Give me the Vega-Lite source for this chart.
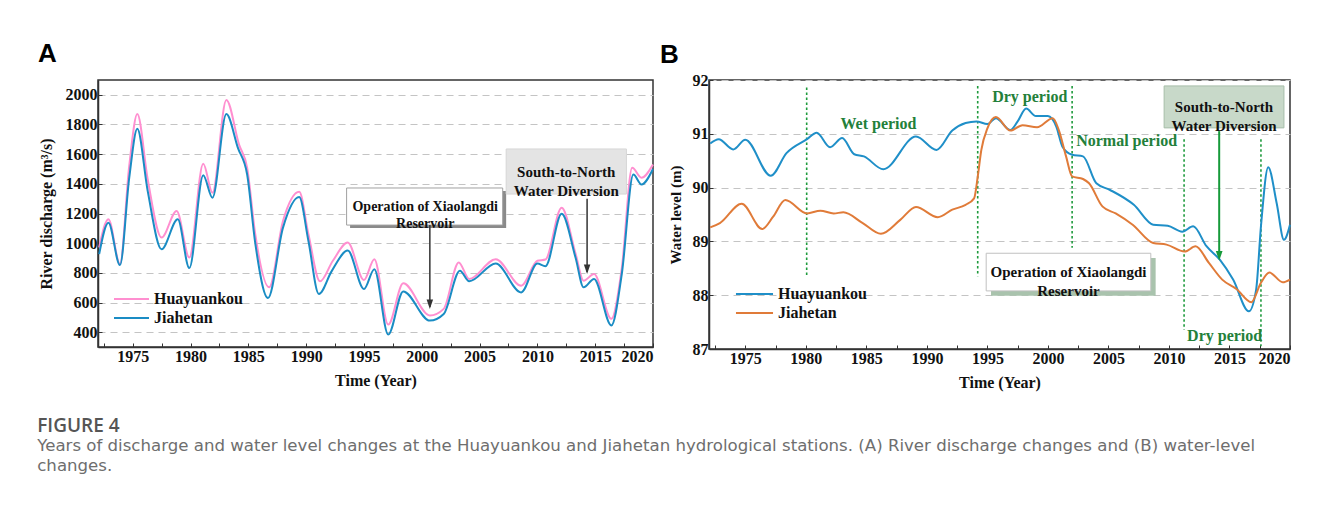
{
"$schema": "https://vega.github.io/schema/vega-lite/v6.json",
"background": "white",
"padding": {"left": 37, "top": 40, "right": 10, "bottom": 30},
"spacing": 1,
"title": {"text": "FIGURE 4", "subtitle": ["Years of discharge and water level changes at the Huayuankou and Jiahetan hydrological stations. (A) River discharge changes and (B) water-level", "changes."], "orient": "bottom", "anchor": "start", "offset": 26, "font": "Open Sans", "fontSize": 19, "fontWeight": 600, "color": "#555555", "subtitleFont": "DejaVu Sans", "subtitleFontSize": 16.6, "subtitleColor": "#6e6e6e", "subtitlePadding": 2, "subtitleLineHeight": 20},
"resolve": {"scale": {"color": "independent"}, "legend": {"color": "independent"}},
"hconcat": [
{
"width": 555, "height": 267,
"title": {"text": "A", "anchor": "start", "font": "Liberation Sans", "fontSize": 26, "fontWeight": "bold", "color": "#000", "offset": 13},
"layer": [
{
"data": {"values": [
{"year":1972.1,"station":"Huayuankou","value":971},{"year":1972.9,"station":"Huayuankou","value":1161},{"year":1973.9,"station":"Huayuankou","value":859},{"year":1974.7,"station":"Huayuankou","value":1520},{"year":1975.4,"station":"Huayuankou","value":1870},{"year":1976.3,"station":"Huayuankou","value":1430},{"year":1977.5,"station":"Huayuankou","value":1038},{"year":1978.8,"station":"Huayuankou","value":1217},{"year":1979.9,"station":"Huayuankou","value":903},{"year":1981.1,"station":"Huayuankou","value":1535},{"year":1981.9,"station":"Huayuankou","value":1340},{"year":1983.1,"station":"Huayuankou","value":1966},{"year":1984.2,"station":"Huayuankou","value":1664},{"year":1984.9,"station":"Huayuankou","value":1508},{"year":1985.6,"station":"Huayuankou","value":1060},{"year":1986.8,"station":"Huayuankou","value":702},{"year":1988.0,"station":"Huayuankou","value":1150},{"year":1989.4,"station":"Huayuankou","value":1347},{"year":1990.2,"station":"Huayuankou","value":1060},{"year":1991.2,"station":"Huayuankou","value":743},{"year":1992.3,"station":"Huayuankou","value":880},{"year":1993.6,"station":"Huayuankou","value":1004},{"year":1995.0,"station":"Huayuankou","value":751},{"year":1995.9,"station":"Huayuankou","value":892},{"year":1997.1,"station":"Huayuankou","value":451},{"year":1998.4,"station":"Huayuankou","value":729},{"year":2000.7,"station":"Huayuankou","value":512},{"year":2001.9,"station":"Huayuankou","value":557},{"year":2003.2,"station":"Huayuankou","value":870},{"year":2004.1,"station":"Huayuankou","value":759},{"year":2006.4,"station":"Huayuankou","value":892},{"year":2008.6,"station":"Huayuankou","value":713},{"year":2010.0,"station":"Huayuankou","value":881},{"year":2010.7,"station":"Huayuankou","value":890},{"year":2012.1,"station":"Huayuankou","value":1239},{"year":2013.3,"station":"Huayuankou","value":930},{"year":2014.0,"station":"Huayuankou","value":747},{"year":2014.9,"station":"Huayuankou","value":792},{"year":2016.4,"station":"Huayuankou","value":490},{"year":2017.3,"station":"Huayuankou","value":830},{"year":2018.2,"station":"Huayuankou","value":1508},{"year":2019.0,"station":"Huayuankou","value":1441},{"year":2020.0,"station":"Huayuankou","value":1530},
{"year":1972.1,"station":"Jiahetan","value":926},{"year":1972.9,"station":"Jiahetan","value":1138},{"year":1973.9,"station":"Jiahetan","value":852},{"year":1974.7,"station":"Jiahetan","value":1440},{"year":1975.4,"station":"Jiahetan","value":1772},{"year":1976.3,"station":"Jiahetan","value":1351},{"year":1977.5,"station":"Jiahetan","value":959},{"year":1978.9,"station":"Jiahetan","value":1161},{"year":1979.9,"station":"Jiahetan","value":832},{"year":1981.1,"station":"Jiahetan","value":1458},{"year":1981.9,"station":"Jiahetan","value":1306},{"year":1983.1,"station":"Jiahetan","value":1870},{"year":1984.1,"station":"Jiahetan","value":1642},{"year":1984.9,"station":"Jiahetan","value":1463},{"year":1985.6,"station":"Jiahetan","value":1000},{"year":1986.7,"station":"Jiahetan","value":630},{"year":1988.0,"station":"Jiahetan","value":1105},{"year":1989.4,"station":"Jiahetan","value":1311},{"year":1990.2,"station":"Jiahetan","value":1015},{"year":1991.1,"station":"Jiahetan","value":657},{"year":1992.2,"station":"Jiahetan","value":810},{"year":1993.6,"station":"Jiahetan","value":950},{"year":1995.0,"station":"Jiahetan","value":691},{"year":1995.9,"station":"Jiahetan","value":825},{"year":1997.1,"station":"Jiahetan","value":384},{"year":1998.4,"station":"Jiahetan","value":675},{"year":2000.7,"station":"Jiahetan","value":478},{"year":2001.9,"station":"Jiahetan","value":523},{"year":2003.3,"station":"Jiahetan","value":814},{"year":2004.1,"station":"Jiahetan","value":743},{"year":2006.4,"station":"Jiahetan","value":863},{"year":2008.6,"station":"Jiahetan","value":668},{"year":2010.0,"station":"Jiahetan","value":863},{"year":2010.7,"station":"Jiahetan","value":845},{"year":2012.1,"station":"Jiahetan","value":1199},{"year":2013.3,"station":"Jiahetan","value":903},{"year":2014.0,"station":"Jiahetan","value":702},{"year":2014.9,"station":"Jiahetan","value":758},{"year":2016.4,"station":"Jiahetan","value":445},{"year":2017.3,"station":"Jiahetan","value":792},{"year":2018.3,"station":"Jiahetan","value":1463},{"year":2019.0,"station":"Jiahetan","value":1396},{"year":2020.0,"station":"Jiahetan","value":1500}
]},
"mark": {"type": "line", "interpolate": "monotone", "strokeWidth": 2},
"encoding": {
"x": {"field": "year", "type": "quantitative", "scale": {"domain": [1972, 2020], "nice": false, "zero": false}, "axis": {"title": "Time (Year)", "titlePadding": 8, "tickCount": 100, "values": [1972.5,1975,1977.5,1980,1982.5,1985,1987.5,1990,1992.5,1995,1997.5,2000,2002.5,2005,2007.5,2010,2012.5,2015,2017.5,2020], "format": "d", "labelExpr": "datum.value % 5 === 0 ? datum.label : ''", "labelOverlap": false, "grid": false}},
"y": {"field": "value", "type": "quantitative", "scale": {"domain": [300, 2100], "nice": false, "zero": false}, "axis": {"title": "River discharge (m³/s)", "titlePadding": 11, "tickCount": 100, "values": [400,600,800,1000,1200,1400,1600,1800,2000], "format": "d", "labelOverlap": false, "grid": true}},
"color": {"field": "station", "type": "nominal", "scale": {"domain": ["Huayuankou", "Jiahetan"], "range": ["#ff8fd0", "#1a8cc4"]}, "legend": {"orient": "none", "legendX": 22.5, "legendY": 208, "title": null, "symbolType": "M-1.75,0H1.75", "symbolSize": 400, "symbolStrokeWidth": 2, "labelFont": "Liberation Serif", "labelFontWeight": "bold", "labelFontSize": 16, "labelColor": "#111", "labelOffset": 11.5, "rowPadding": 0, "padding": 0}}
}
},
{
"data": {"values": [{"x1": 1993.8, "x2": 2007.3, "y1": 1102, "y2": 1352}]},
"mark": {"type": "rect", "color": "#8a8a8a"},
"encoding": {"x": {"field": "x1", "type": "quantitative"}, "x2": {"field": "x2"}, "y": {"field": "y1", "type": "quantitative"}, "y2": {"field": "y2"}}
},
{
"data": {"values": [{"x1": 1993.5, "x2": 2007.0, "y1": 1122, "y2": 1372}]},
"mark": {"type": "rect", "fill": "white", "stroke": "#a0a0a0", "strokeWidth": 1},
"encoding": {"x": {"field": "x1", "type": "quantitative"}, "x2": {"field": "x2"}, "y": {"field": "y1", "type": "quantitative"}, "y2": {"field": "y2"}}
},
{
"data": {"values": [{"x1": 2007.3, "x2": 2017.7, "y1": 1331, "y2": 1635}]},
"mark": {"type": "rect", "fill": "#e4e4e4", "stroke": "#d6d6d6", "strokeWidth": 1},
"encoding": {"x": {"field": "x1", "type": "quantitative"}, "x2": {"field": "x2"}, "y": {"field": "y1", "type": "quantitative"}, "y2": {"field": "y2"}}
},
{
"data": {"values": [{"x": 2000.3, "y": 1247, "label": "Operation of Xiaolangdi\nReservoir"}]},
"mark": {"type": "text", "font": "Liberation Serif", "fontWeight": "bold", "fontSize": 14, "lineBreak": "\n", "lineHeight": 17, "baseline": "middle", "align": "center", "color": "#111"},
"encoding": {"x": {"field": "x", "type": "quantitative"}, "y": {"field": "y", "type": "quantitative"}, "text": {"field": "label"}}
},
{
"data": {"values": [{"x": 2012.5, "y": 1483, "label": "South-to-North\nWater Diversion"}]},
"mark": {"type": "text", "font": "Liberation Serif", "fontWeight": "bold", "fontSize": 15, "lineBreak": "\n", "lineHeight": 19, "baseline": "middle", "align": "center", "color": "#111"},
"encoding": {"x": {"field": "x", "type": "quantitative"}, "y": {"field": "y", "type": "quantitative"}, "text": {"field": "label"}}
},
{
"data": {"values": [{"x": 2000.7, "y1": 1122, "y2": 570}, {"x": 2014.3, "y1": 1300, "y2": 805}]},
"mark": {"type": "rule", "color": "#333", "strokeWidth": 1.5},
"encoding": {"x": {"field": "x", "type": "quantitative"}, "y": {"field": "y1", "type": "quantitative"}, "y2": {"field": "y2"}}
},
{
"data": {"values": [{"x": 2000.7, "y": 556}, {"x": 2014.3, "y": 792}]},
"mark": {"type": "point", "shape": "M-0.55,-1.6L0.55,-1.6L0,0Z", "size": 140, "filled": true, "color": "#333", "opacity": 1},
"encoding": {"x": {"field": "x", "type": "quantitative"}, "y": {"field": "y", "type": "quantitative"}}
}
]
},
{
"width": 581, "height": 269,
"title": {"text": "B", "anchor": "start", "font": "Liberation Sans", "fontSize": 26, "fontWeight": "bold", "color": "#000", "offset": 4, "dx": -8},
"layer": [
{
"data": {"values": [
{"year":1980.07,"y1":91.86,"y2":88.35},{"year":1994.2,"y1":91.89,"y2":88.35},{"year":2002.0,"y1":91.89,"y2":88.88},{"year":2011.25,"y1":90.9,"y2":87.36},{"year":2017.6,"y1":90.9,"y2":87.05}
]},
"mark": {"type": "rule", "color": "#1e9a3c", "strokeWidth": 1.6, "strokeDash": [2.5, 2.5]},
"encoding": {"x": {"field": "year", "type": "quantitative"}, "y": {"field": "y1", "type": "quantitative"}, "y2": {"field": "y2"}}
},
{
"data": {"values": [
{"year":1972.1,"station":"Huayuankou","level":90.82},{"year":1972.8,"station":"Huayuankou","level":90.9},{"year":1974.0,"station":"Huayuankou","level":90.71},{"year":1975.0,"station":"Huayuankou","level":90.89},{"year":1977.1,"station":"Huayuankou","level":90.22},{"year":1978.4,"station":"Huayuankou","level":90.64},{"year":1980.1,"station":"Huayuankou","level":90.9},{"year":1980.9,"station":"Huayuankou","level":91.02},{"year":1982.0,"station":"Huayuankou","level":90.75},{"year":1983.0,"station":"Huayuankou","level":90.92},{"year":1984.0,"station":"Huayuankou","level":90.62},{"year":1984.8,"station":"Huayuankou","level":90.58},{"year":1986.4,"station":"Huayuankou","level":90.34},{"year":1989.1,"station":"Huayuankou","level":90.95},{"year":1990.8,"station":"Huayuankou","level":90.7},{"year":1992.1,"station":"Huayuankou","level":91.06},{"year":1993.2,"station":"Huayuankou","level":91.2},{"year":1994.1,"station":"Huayuankou","level":91.23},{"year":1995.0,"station":"Huayuankou","level":91.18},{"year":1995.7,"station":"Huayuankou","level":91.29},{"year":1996.9,"station":"Huayuankou","level":91.07},{"year":1997.5,"station":"Huayuankou","level":91.23},{"year":1998.2,"station":"Huayuankou","level":91.47},{"year":1999.0,"station":"Huayuankou","level":91.33},{"year":2000.0,"station":"Huayuankou","level":91.33},{"year":2000.7,"station":"Huayuankou","level":91.13},{"year":2001.2,"station":"Huayuankou","level":90.76},{"year":2002.0,"station":"Huayuankou","level":90.61},{"year":2002.9,"station":"Huayuankou","level":90.58},{"year":2004.0,"station":"Huayuankou","level":90.08},{"year":2005.1,"station":"Huayuankou","level":89.96},{"year":2007.1,"station":"Huayuankou","level":89.68},{"year":2008.7,"station":"Huayuankou","level":89.31},{"year":2009.9,"station":"Huayuankou","level":89.29},{"year":2011.1,"station":"Huayuankou","level":89.18},{"year":2012.0,"station":"Huayuankou","level":89.28},{"year":2013.1,"station":"Huayuankou","level":88.91},{"year":2014.2,"station":"Huayuankou","level":88.66},{"year":2015.3,"station":"Huayuankou","level":88.29},{"year":2016.6,"station":"Huayuankou","level":87.7},{"year":2017.2,"station":"Huayuankou","level":88.1},{"year":2017.6,"station":"Huayuankou","level":89.28},{"year":2018.2,"station":"Huayuankou","level":90.38},{"year":2018.9,"station":"Huayuankou","level":89.71},{"year":2019.5,"station":"Huayuankou","level":89.03},{"year":2020.0,"station":"Huayuankou","level":89.31},
{"year":1972.1,"station":"Jiahetan","level":89.26},{"year":1972.9,"station":"Jiahetan","level":89.34},{"year":1974.7,"station":"Jiahetan","level":89.7},{"year":1976.4,"station":"Jiahetan","level":89.23},{"year":1977.3,"station":"Jiahetan","level":89.46},{"year":1978.3,"station":"Jiahetan","level":89.77},{"year":1980.1,"station":"Jiahetan","level":89.52},{"year":1981.2,"station":"Jiahetan","level":89.57},{"year":1982.3,"station":"Jiahetan","level":89.52},{"year":1983.1,"station":"Jiahetan","level":89.54},{"year":1984.7,"station":"Jiahetan","level":89.34},{"year":1986.2,"station":"Jiahetan","level":89.14},{"year":1987.8,"station":"Jiahetan","level":89.4},{"year":1989.1,"station":"Jiahetan","level":89.64},{"year":1990.9,"station":"Jiahetan","level":89.45},{"year":1992.1,"station":"Jiahetan","level":89.59},{"year":1993.2,"station":"Jiahetan","level":89.68},{"year":1993.9,"station":"Jiahetan","level":89.8},{"year":1994.2,"station":"Jiahetan","level":90.2},{"year":1994.5,"station":"Jiahetan","level":90.7},{"year":1995.0,"station":"Jiahetan","level":91.1},{"year":1995.7,"station":"Jiahetan","level":91.31},{"year":1996.9,"station":"Jiahetan","level":91.06},{"year":1997.9,"station":"Jiahetan","level":91.16},{"year":1999.1,"station":"Jiahetan","level":91.12},{"year":2000.4,"station":"Jiahetan","level":91.29},{"year":2000.9,"station":"Jiahetan","level":91.07},{"year":2001.5,"station":"Jiahetan","level":90.58},{"year":2002.0,"station":"Jiahetan","level":90.21},{"year":2002.9,"station":"Jiahetan","level":90.16},{"year":2003.4,"station":"Jiahetan","level":90.08},{"year":2004.5,"station":"Jiahetan","level":89.65},{"year":2005.6,"station":"Jiahetan","level":89.52},{"year":2007.0,"station":"Jiahetan","level":89.31},{"year":2008.7,"station":"Jiahetan","level":88.97},{"year":2009.8,"station":"Jiahetan","level":88.94},{"year":2011.3,"station":"Jiahetan","level":88.81},{"year":2012.2,"station":"Jiahetan","level":88.91},{"year":2013.3,"station":"Jiahetan","level":88.6},{"year":2014.4,"station":"Jiahetan","level":88.29},{"year":2015.6,"station":"Jiahetan","level":88.11},{"year":2016.8,"station":"Jiahetan","level":87.87},{"year":2017.6,"station":"Jiahetan","level":88.23},{"year":2018.3,"station":"Jiahetan","level":88.42},{"year":2019.4,"station":"Jiahetan","level":88.24},{"year":2020.0,"station":"Jiahetan","level":88.29}
]},
"mark": {"type": "line", "interpolate": "monotone", "strokeWidth": 2},
"encoding": {
"x": {"field": "year", "type": "quantitative", "scale": {"domain": [1972, 2020], "nice": false, "zero": false}, "axis": {"title": "Time (Year)", "titlePadding": 8, "tickCount": 100, "values": [1972.5,1975,1977.5,1980,1982.5,1985,1987.5,1990,1992.5,1995,1997.5,2000,2002.5,2005,2007.5,2010,2012.5,2015,2017.5,2020], "format": "d", "labelExpr": "datum.value % 5 === 0 ? datum.label : ''", "labelOverlap": false, "grid": false}},
"y": {"field": "level", "type": "quantitative", "scale": {"domain": [87, 92], "nice": false, "zero": false}, "axis": {"title": "Water level (m)", "titleFontSize": 15, "titlePadding": 9, "tickCount": 100, "values": [87,87.5,88,88.5,89,89.5,90,90.5,91,91.5,92], "format": "d", "labelExpr": "datum.value % 1 === 0 ? datum.label : ''", "labelOverlap": false, "grid": true}},
"color": {"field": "station", "type": "nominal", "scale": {"domain": ["Huayuankou", "Jiahetan"], "range": ["#1f8fc8", "#e07b39"]}, "legend": {"orient": "none", "legendX": 35, "legendY": 203.5, "title": null, "symbolType": "M-1.95,0H1.95", "symbolSize": 361, "symbolStrokeWidth": 2, "labelFont": "Liberation Serif", "labelFontWeight": "bold", "labelFontSize": 16, "labelColor": "#111", "labelOffset": 13, "rowPadding": 0, "padding": 0}}
}
},
{
"data": {"values": [{"x": 1986.0, "y": 91.18, "label": "Wet period"}, {"x": 1998.5, "y": 91.68, "label": "Dry period"}, {"x": 2006.5, "y": 90.87, "label": "Normal period"}, {"x": 2014.6, "y": 87.25, "label": "Dry period"}]},
"mark": {"type": "text", "font": "Liberation Serif", "fontWeight": "bold", "fontSize": 16, "baseline": "middle", "align": "center", "color": "#23803a"},
"encoding": {"x": {"field": "x", "type": "quantitative"}, "y": {"field": "y", "type": "quantitative"}, "text": {"field": "label"}}
},
{
"data": {"values": [{"x1": 1995.3, "x2": 2008.9, "y1": 87.99, "y2": 88.69}]},
"mark": {"type": "rect", "color": "#a9c3ad"},
"encoding": {"x": {"field": "x1", "type": "quantitative"}, "x2": {"field": "x2"}, "y": {"field": "y1", "type": "quantitative"}, "y2": {"field": "y2"}}
},
{
"data": {"values": [{"x1": 1994.9, "x2": 2008.5, "y1": 88.08, "y2": 88.78}]},
"mark": {"type": "rect", "fill": "white", "stroke": "#c0c0c0", "strokeWidth": 1},
"encoding": {"x": {"field": "x1", "type": "quantitative"}, "x2": {"field": "x2"}, "y": {"field": "y1", "type": "quantitative"}, "y2": {"field": "y2"}}
},
{
"data": {"values": [{"x1": 2009.6, "x2": 2019.5, "y1": 91.11, "y2": 91.89}]},
"mark": {"type": "rect", "fill": "#c8d9c9", "stroke": "#a7bea9", "strokeWidth": 1},
"encoding": {"x": {"field": "x1", "type": "quantitative"}, "x2": {"field": "x2"}, "y": {"field": "y1", "type": "quantitative"}, "y2": {"field": "y2"}}
},
{
"data": {"values": [{"x": 2001.7, "y": 88.43, "label": "Operation of Xiaolangdi\nReservoir"}, {"x": 2014.55, "y": 91.5, "label": "South-to-North\nWater Diversion"}]},
"mark": {"type": "text", "font": "Liberation Serif", "fontWeight": "bold", "fontSize": 15, "lineBreak": "\n", "lineHeight": 19, "baseline": "middle", "align": "center", "color": "#111"},
"encoding": {"x": {"field": "x", "type": "quantitative"}, "y": {"field": "y", "type": "quantitative"}, "text": {"field": "label"}}
},
{
"data": {"values": [{"x": 2014.15, "y1": 91.05, "y2": 88.8}]},
"mark": {"type": "rule", "color": "#169a3a", "strokeWidth": 2},
"encoding": {"x": {"field": "x", "type": "quantitative"}, "y": {"field": "y1", "type": "quantitative"}, "y2": {"field": "y2"}}
},
{
"data": {"values": [{"x": 2014.15, "y": 88.64}]},
"mark": {"type": "point", "shape": "M-0.55,-1.6L0.55,-1.6L0,0Z", "size": 150, "filled": true, "color": "#169a3a", "opacity": 1},
"encoding": {"x": {"field": "x", "type": "quantitative"}, "y": {"field": "y", "type": "quantitative"}}
}
]
}
],
"config": {
"view": {"stroke": "#333", "strokeWidth": 1.5},
"axis": {"labelFont": "Liberation Serif", "labelFontWeight": "bold", "labelFontSize": 16, "labelColor": "#111", "labelOverlap": false, "titleFont": "Liberation Serif", "titleFontWeight": "bold", "titleFontSize": 16, "titleColor": "#111", "domainColor": "#333", "domainWidth": 1.5, "tickColor": "#333", "tickSize": -4, "labelPadding": 5, "gridColor": "#c4c4c4", "gridDash": [7, 5], "gridWidth": 1.2, "titlePadding": 3}
}
}
